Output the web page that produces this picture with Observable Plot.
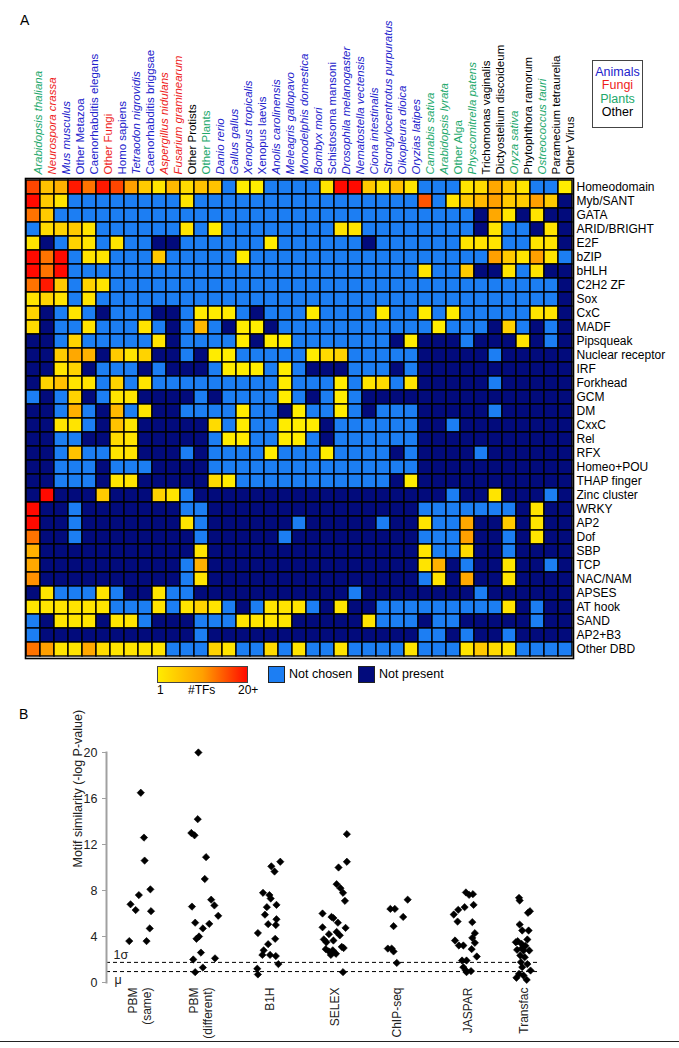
<!DOCTYPE html>
<html><head><meta charset="utf-8">
<script src="https://cdn.jsdelivr.net/npm/d3@7"></script>
<script src="https://cdn.jsdelivr.net/npm/@observablehq/plot@0.6"></script>
<style>
body{margin:0;background:#fff;font-family:"Liberation Sans",Arial,sans-serif;}
#fig{position:relative;width:679px;height:1048px;overflow:hidden;background:#fff;}
.abs{position:absolute;white-space:nowrap;color:#000;}
</style></head><body><div id="fig"></div>
<script>
// ---------------- DATA ----------------
const species = ["Arabidopsis thaliana","Neurospora crassa","Mus musculus","Other Metazoa","Caenorhabditis elegans","Other Fungi","Homo sapiens","Tetraodon nigrovidis","Caenorhabditis briggsae","Aspergillus nidulans","Fusarium graminearum","Other Protists","Other Plants","Danio rerio","Gallus gallus","Xenopus tropicalis","Xenopus laevis","Anolis carolinensis","Meleagris gallopavo","Monodelphis domestica","Bombyx mori","Schistosoma mansoni","Drosophila melanogaster","Nematostella vectensis","Ciona intestinalis","Strongylocentrotus purpuratus","Oikopleura dioica","Oryzias latipes","Cannabis sativa","Arabidopsis lyrata","Other Alga","Physcomitrella patens","Trichomonas vaginalis","Dictyostelium discoideum","Oryza sativa","Phytophthora ramorum","Ostreococcus tauri","Paramecium tetraurelia","Other Virus"];
const speciesGroup = ["Plants","Fungi","Animals","Animals","Animals","Fungi","Animals","Animals","Animals","Fungi","Fungi","Other","Plants","Animals","Animals","Animals","Animals","Animals","Animals","Animals","Animals","Animals","Animals","Animals","Animals","Animals","Animals","Animals","Plants","Plants","Plants","Plants","Other","Other","Plants","Other","Plants","Other","Other"];
const speciesItalic = [1,1,1,0,0,0,0,1,0,1,1,0,0,1,1,1,0,1,1,1,1,0,1,1,1,1,1,1,1,1,0,1,0,0,1,0,1,0,0];
const groupNames = ["Animals","Fungi","Plants","Other"];
const groupColors = ["#2222cc","#ee1c1c","#21a86b","#000000"];

const domainsDBD = ["Homeodomain","Myb/SANT","GATA","ARID/BRIGHT","E2F","bZIP","bHLH","C2H2 ZF","Sox","CxC","MADF","Pipsqueak","Nuclear receptor","IRF","Forkhead","GCM","DM","CxxC","Rel","RFX","Homeo+POU","THAP finger","Zinc cluster","WRKY","AP2","Dof","SBP","TCP","NAC/NAM","APSES","AT hook","SAND","AP2+B3","Other DBD"];

// N = not present, C = not chosen, positive = #TFs (20 = 20+)
const N = -1, C = 0;
const heat = [
[16,6,8,19,13,19,16,10,5,2,7,3,6,6,C,1,1,C,C,C,C,2,20,20,5,2,6,2,C,C,C,2,3,9,5,2,C,C,1],
[20,5,2,C,C,C,C,C,C,C,C,2,C,C,C,C,C,C,C,C,C,C,C,C,C,C,C,C,15,C,2,5,7,10,5,5,10,5,N],
[13,5,C,C,C,C,C,C,C,C,C,C,C,C,C,C,C,C,C,C,C,C,C,C,C,C,C,C,C,C,C,C,N,9,2,N,2,N,N],
[C,3,4,5,2,C,C,C,C,C,C,2,C,1,C,C,C,C,C,C,C,C,2,2,C,C,C,C,C,C,C,C,N,2,C,C,N,2,N],
[2,N,C,4,2,C,2,C,C,N,N,C,C,C,C,C,C,1,C,C,C,C,C,C,N,C,C,C,C,C,C,2,2,2,C,C,2,2,N],
[20,13,20,C,2,2,C,C,C,5,C,C,C,C,C,1,C,C,C,C,C,C,C,C,C,C,C,C,C,C,C,C,C,10,5,2,10,2,C],
[20,13,20,C,C,C,C,C,C,C,C,C,C,C,C,C,C,C,C,C,C,C,C,C,C,C,C,C,2,C,C,5,N,N,2,C,2,N,N],
[13,19,5,C,4,2,C,C,C,C,C,C,C,C,C,C,C,C,C,C,C,C,C,C,C,C,C,C,C,C,C,C,C,C,C,C,C,C,N],
[2,4,2,C,2,C,C,C,C,C,C,C,C,C,C,C,C,C,C,C,C,C,C,C,C,C,C,C,C,C,C,C,C,C,C,C,C,C,N],
[4,N,C,2,C,N,C,C,C,N,N,C,1,1,1,C,N,C,C,C,1,C,C,C,C,1,C,C,1,C,1,C,C,C,C,C,2,2,N],
[3,N,C,C,2,C,C,C,2,C,N,C,7,C,N,1,1,N,C,C,C,C,C,C,C,C,C,C,C,1,C,C,C,N,4,C,N,C,N],
[N,N,C,4,C,C,C,C,C,2,N,C,C,C,C,1,N,1,1,C,C,C,C,C,C,C,N,1,N,N,N,C,N,N,N,2,N,C,N],
[N,N,5,9,8,N,5,2,4,N,N,C,N,1,1,C,C,C,C,C,1,3,4,C,C,C,C,C,N,N,N,N,N,C,N,N,N,N,N],
[N,N,2,4,N,C,C,C,N,C,N,N,N,C,1,1,1,C,1,C,N,N,N,C,C,C,N,C,N,N,N,N,N,N,N,N,N,N,N],
[N,4,6,2,2,C,4,C,2,C,C,C,C,C,C,C,C,C,1,C,C,C,1,C,2,3,C,2,N,N,N,N,N,C,N,N,N,N,N],
[C,N,C,4,N,C,2,2,N,N,N,N,C,N,C,C,C,C,1,C,N,C,1,C,N,N,N,N,N,N,N,N,N,N,N,N,N,N,N],
[N,N,C,8,C,N,7,C,2,N,N,C,C,C,C,1,C,C,N,1,C,C,1,C,N,C,C,C,N,N,N,N,N,C,N,N,N,N,N],
[N,N,2,2,C,N,6,2,N,N,N,N,N,3,C,1,C,C,1,1,1,N,C,C,C,C,C,C,N,N,C,N,N,N,N,N,N,N,N],
[N,N,C,C,N,N,3,2,N,N,N,N,N,C,1,1,C,C,1,1,C,N,C,C,C,C,C,C,N,N,N,N,N,N,N,N,N,N,N],
[N,N,C,6,C,C,2,2,N,N,N,C,N,C,C,C,C,1,C,C,C,1,C,C,C,C,N,C,N,N,N,N,C,N,N,N,N,N,N],
[N,N,C,C,C,N,C,C,C,N,N,N,N,C,C,C,C,C,C,C,C,C,C,C,C,C,C,C,N,N,N,N,N,N,N,N,N,N,N],
[N,N,C,C,C,N,2,2,N,N,N,N,N,3,1,C,C,C,C,C,C,C,C,C,C,C,N,1,N,N,N,N,N,N,N,N,N,N,N],
[N,20,N,N,N,5,N,N,N,4,2,C,N,N,N,N,N,N,N,N,N,N,N,N,N,N,N,N,N,N,C,N,N,2,N,N,N,C,N],
[20,N,N,C,N,N,N,N,N,N,N,C,C,N,N,N,N,N,N,N,N,N,N,N,N,N,N,N,C,C,C,C,C,C,C,N,2,N,N],
[20,N,N,C,N,N,N,N,N,N,N,2,C,N,N,N,N,N,N,C,N,N,N,N,N,C,N,N,2,C,C,9,N,N,5,N,2,N,N],
[13,N,N,C,N,N,N,N,N,N,N,N,C,N,N,N,N,N,C,N,N,N,N,N,N,N,N,N,C,C,C,10,N,N,C,N,2,N,N],
[8,N,N,N,N,N,N,N,N,N,N,N,2,N,N,N,N,N,N,N,N,N,N,N,N,N,N,N,2,C,C,3,N,N,C,N,N,N,N],
[9,N,N,N,N,N,N,N,N,N,N,C,8,N,N,N,N,N,N,N,N,N,N,N,N,N,N,N,2,8,N,C,N,N,2,N,N,C,N],
[11,N,N,N,N,N,N,N,N,N,N,C,2,N,N,N,N,N,N,N,N,N,N,N,N,N,N,N,C,2,N,9,N,N,2,N,N,N,N],
[N,2,C,C,C,2,C,N,N,2,C,C,N,N,N,N,N,N,N,N,N,N,N,C,N,N,N,N,N,N,N,N,C,N,N,N,N,N,N],
[2,2,2,2,2,2,C,C,C,2,C,2,4,2,C,N,C,2,2,2,C,N,2,N,N,C,C,C,C,C,C,C,C,C,2,N,C,N,N],
[C,N,2,2,2,N,2,2,C,N,N,N,C,C,C,2,2,2,2,N,N,N,N,N,2,C,C,C,N,C,C,N,N,N,N,N,C,N,N],
[C,N,N,N,N,N,N,N,N,N,N,N,C,N,N,N,N,N,N,N,N,N,N,N,N,N,N,N,C,C,N,C,N,N,C,N,N,N,N],
[13,10,2,2,9,3,2,2,2,2,C,C,C,4,2,C,C,3,C,2,C,C,2,C,C,C,C,2,C,C,C,2,5,3,2,C,C,C,C]
];

// Panel B: motif similarity (-log P-value), with horizontal jitter in category units
const methods = ["PBM\n(same)","PBM\n(different)","B1H","SELEX","ChIP-seq","JASPAR","Transfac"];
const methodX = [0, 0.95, 2.03, 3.05, 4.02, 5.13, 6];
const pbmSameVals = [16.5,12.6,10.6,8.1,7.6,6.8,6.3,6.2,4.7,3.6,3.6];
const pbmSameOffs = [0.02,0.07,0.08,0.17,-0.01,-0.14,-0.06,0.18,0.16,-0.16,0.11];
const pbmDiffVals = [20.0,14.2,13.0,12.8,10.9,9.0,7.2,6.7,6.6,5.8,5.2,5.1,4.7,4.0,3.8,2.6,2.0,2.1,1.3,0.9];
const pbmDiffOffs = [-0.03,-0.04,-0.14,-0.09,0.09,0.07,0.17,0.22,-0.13,0.28,-0.08,0.14,0.04,-0.02,-0.06,0.01,-0.11,0.23,0.04,-0.08];
const b1hVals = [10.5,10.1,9.65,7.8,7.6,7.3,6.75,6.55,5.9,5.5,5.07,5.0,4.3,3.8,3.33,2.8,2.4,2.4,2.3,1.6,1.2,0.7];
const b1hOffs = [0.17,0.03,0.08,-0.10,0,0.02,0.11,-0.04,-0.07,0.11,-0.02,0.10,-0.18,0.09,-0.02,-0.09,-0.11,0.01,0.10,0.14,-0.19,-0.18];
const selexVals = [12.9,10.5,10.0,8.55,8.2,7.8,7.1,6.0,5.7,5.6,5.2,4.8,4.75,4.4,4.2,4.1,3.75,3.65,3.5,3.1,3.0,2.9,2.8,2.7,2.5,2.4,0.9];
const selexOffs = [0.19,0.19,0.06,0.03,0.09,0.13,0.16,-0.19,-0.05,-0.02,0.05,-0.19,0.17,0.03,-0.09,0.08,-0.17,-0.02,-0.13,0.11,0.14,-0.14,-0.03,-0.09,0.02,-0.06,0.13];
const chipVals = [7.2,6.4,6.4,5.7,4.9,2.95,2.95,2.7,1.7];
const chipOffs = [0.17,-0.10,-0.03,0.10,-0.05,-0.14,-0.08,-0.05,0];
const jasparVals = [7.83,7.62,7.68,6.75,6.55,6.32,5.91,5.3,5.25,4.29,3.88,3.65,3.45,3.22,3.22,2.9,2.26,1.91,1.91,1.33,1.04,0.99,0.9];
const jasparOffs = [-0.03,0.02,0.08,0.09,-0.05,-0.15,-0.22,-0.16,0.07,0.11,0.07,-0.20,0.11,-0.14,-0.07,0.06,0.14,-0.09,-0.02,-0.07,-0.03,0.05,-0.02];
const transfacVals = [7.36,7.13,6.2,6.06,5.04,4.52,4.52,3.59,3.74,3.36,3.19,2.84,2.78,2.78,2.35,2.2,1.77,1.04,1.33,0.75,0.61,0.41,0.23,3.5,3.0,1.6];
const transfacOffs = [-0.07,-0.06,0.10,0.07,-0.06,-0.02,0.08,-0.09,0.06,-0.03,0.03,-0.10,0.09,0,-0.05,0.02,-0.04,0.11,-0.02,-0.07,0,-0.11,0.05,-0.12,-0.02,0.06];
const mu = 0.95, sigma1 = 1.75;
const yTicks = [0,4,8,12,16,20];

// ---------------- COLORS ----------------
const NAVY = "#020b7c", BLUE = "#1c7ef3";
const heatStops = ["#ffec00","#ffa000","#ff0a00"];

// ---------------- BUILD ----------------
const fig = document.getElementById("fig");
const font = '"Liberation Sans", Arial, sans-serif';

const cells = [];
domainsDBD.forEach((r, i) => heat[i].forEach((v, j) => cells.push({row: r, sp: species[j], v})));

const spData = species.map((name, i) => ({name, group: speciesGroup[i], italic: speciesItalic[i]}));
const labelMarks = [];
groupNames.forEach((g, gi) => {
  [1, 0].forEach(it => {
    const sub = spData.filter(d => d.group === g && d.italic === it);
    if (sub.length) labelMarks.push(Plot.text(sub, {
      x: "name", text: "name", frameAnchor: "top", dy: -4, rotate: -90,
      textAnchor: "start", fill: groupColors[gi], fontSize: 11.5,
      fontStyle: it ? "italic" : "normal"
    }));
  });
});

const heatPlot = Plot.plot({
  width: 679, height: 662,
  marginLeft: 25, marginRight: 106, marginTop: 178, marginBottom: 4,
  style: {fontFamily: font, fontSize: "12px", background: "transparent", overflow: "visible"},
  x: {domain: species, axis: null, padding: 0},
  y: {domain: domainsDBD, axis: null, padding: 0},
  color: {type: "linear", domain: [-1, 0, 1, 10, 20], range: [NAVY, BLUE, ...heatStops], interpolate: "rgb"},
  marks: [
    Plot.cell(cells, {x: "sp", y: "row", fill: "v", stroke: "#000", strokeWidth: 1.4}),
    Plot.frame({stroke: "#000", strokeWidth: 1.6}),
    Plot.axisY({anchor: "right", tickSize: 0, tickPadding: 3, fontSize: 12, fill: "#000", label: null}),
    ...labelMarks
  ]
});
heatPlot.style.position = "absolute"; heatPlot.style.left = "0px"; heatPlot.style.top = "0px";
fig.appendChild(heatPlot);

const pts = [];
[[pbmSameVals,pbmSameOffs],[pbmDiffVals,pbmDiffOffs],[b1hVals,b1hOffs],[selexVals,selexOffs],[chipVals,chipOffs],[jasparVals,jasparOffs],[transfacVals,transfacOffs]]
  .forEach(([vals, offs], i) => vals.forEach((v, k) => pts.push({x: methodX[i] + offs[k], v})));
const methodData = methods.map((m, i) => ({m, x: methodX[i]}));

const scatter = Plot.plot({
  width: 679, height: 310,
  marginLeft: 106, marginRight: 139, marginTop: 22, marginBottom: 58,
  style: {fontFamily: font, fontSize: "12px", background: "transparent", overflow: "visible"},
  x: {domain: [0, 6], range: [139, 523], axis: null},
  y: {domain: [0, 20], axis: null},
  marks: [
    Plot.ruleY([mu, sigma1], {stroke: "#000", strokeWidth: 1, strokeDasharray: "4,3"}),
    Plot.frame({anchor: "left", stroke: "#a0a0a0", strokeWidth: 2}),
    Plot.axisY({ticks: yTicks, tickSize: 4, tickPadding: 5, stroke: "#a0a0a0", fill: "#222", fontSize: 12.5, label: null}),
    Plot.text(["Motif similarity (-log P-value)"], {frameAnchor: "left", dx: -29, rotate: -90, fontSize: 12.5, fill: "#222"}),
    Plot.text([{v: sigma1, t: "1σ"}], {y: "v", text: "t", frameAnchor: "left", dx: 7, dy: -7, textAnchor: "start", fontSize: 12.5, fill: "#222"}),
    Plot.text([{v: mu, t: "μ"}], {y: "v", text: "t", frameAnchor: "left", dx: 8, dy: 8, textAnchor: "start", fontSize: 12.5, fill: "#222"}),
    Plot.dot(pts, {x: "x", y: "v", symbol: "diamond2", r: 3.3, fill: "#000", stroke: "#000", strokeWidth: 0.6}),
    Plot.text(methodData, {x: "x", text: "m", frameAnchor: "bottom", dy: 5, rotate: -90, textAnchor: "end", lineAnchor: "middle", fontSize: 12, fill: "#222", lineHeight: 1.2})
  ]
});
scatter.style.position = "absolute"; scatter.style.left = "0px"; scatter.style.top = "730px";
fig.appendChild(scatter);

// ---------------- HTML annotations / legends ----------------
function addDiv(html, css) {
  const d = document.createElement("div");
  d.className = "abs"; d.innerHTML = html; d.style.cssText += css; fig.appendChild(d); return d;
}
addDiv("A", "left:20px;top:12px;font-size:14px;");
addDiv("B", "left:19px;top:706px;font-size:14px;");

// group legend box
const box = addDiv("", "left:592px;top:60px;width:49px;border:1.5px solid #444;text-align:center;padding-top:5px;box-sizing:content-box;");
box.style.height = "61px";
groupNames.forEach((g, i) => {
  const s = document.createElement("div");
  s.textContent = g; s.style.cssText = `color:${groupColors[i]};font-size:12.5px;line-height:13.4px;`;
  box.appendChild(s);
});

// colour legend below heatmap
addDiv("", `left:157px;top:666px;width:89px;height:15px;border:1px solid #444;background:linear-gradient(to right, ${heatStops.join(",")});`);
addDiv("1", "left:157px;top:683px;font-size:12px;");
addDiv("#TFs", "left:188px;top:683px;font-size:12px;");
addDiv("20+", "left:238px;top:683px;font-size:12px;");
addDiv("", `left:268px;top:666px;width:15px;height:15px;border:1px solid #222;background:${BLUE};`);
addDiv("Not chosen", "left:289px;top:667px;font-size:12.5px;");
addDiv("", `left:358px;top:666px;width:15px;height:15px;border:1px solid #222;background:${NAVY};`);
addDiv("Not present", "left:379px;top:667px;font-size:12.5px;");

// bottom separator line
addDiv("", "left:0px;top:1041px;width:679px;height:1px;background:#222;");
</script></body></html>
